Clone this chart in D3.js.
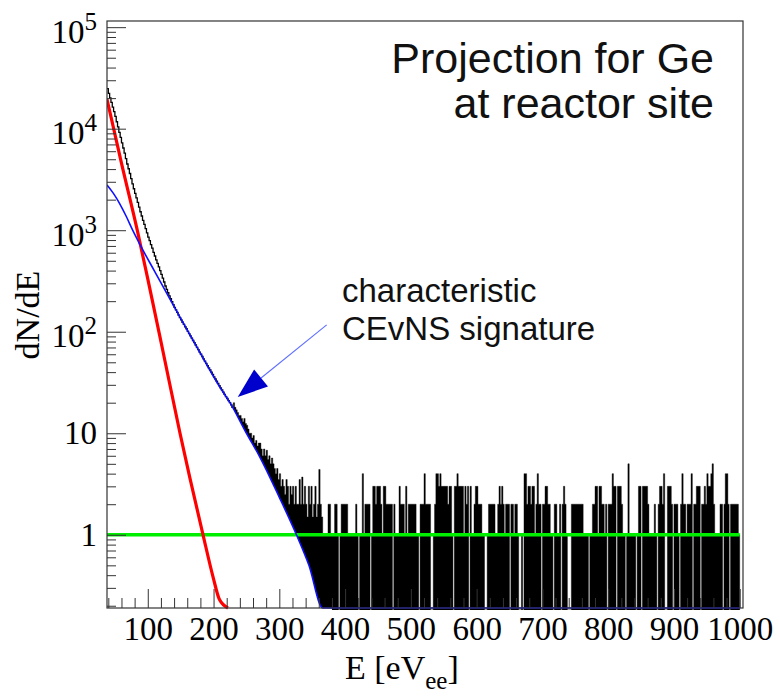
<!DOCTYPE html>
<html><head><meta charset="utf-8">
<script src="https://cdn.jsdelivr.net/npm/d3@7"></script>
<style>body{margin:0;background:#fff}svg{display:block}</style>
</head><body><svg id="c" width="780" height="700"></svg>
<script>
// ---------- data ----------
const xTicks = [100,200,300,400,500,600,700,800,900,1000];
const yTicks = [1,10,100,1000,10000,100000];
// red component (E in eV, dN/dE)
const redE = [38, 60, 84, 100, 123, 149, 164, 184, 199, 209, 222];
const redV = [19500, 4570, 1000, 331, 64.6, 10, 3.63, 1.0, 0.39, 0.23, 0.19];
// blue CEvNS component
const blueE = [38, 48, 57, 67, 77, 88, 110, 139, 170, 209, 225, 250, 270, 300, 326, 345, 366, 380, 1000];
const blueV = [2790, 2290, 1840, 1380, 1000, 724, 398, 182, 80, 28.8, 20, 10, 5.9, 2.34, 1.0, 0.5, 0.19, 0.1, 0.001];
// flat background level (green)
const bgE = [38, 1000];
const bgV = [1, 1];
// black measured histogram, 2 eV bins
const binW = 2;
const blackLowStart = 38;   // step-line part
const blackLow = [24800,22300,20100,18200,16300,14700,13200,11700,10400,9200,
  8200,7250,6450,5750,5060,4490,4030,3620,3220,2860,
  2560,2310,2080,1880,1690,1520,1380,1250,1140,1035,
  940,856,788,721,665,604,557,510,471,435,
  400,367,337,309,282,261,242,226,212,198,
  185,174,164,155,146,138,131,124,118,112,
  107,101,96,91,86.5,82,78,74,70,66.5,
  63,60,57,54,51.4,48.8,46.4,44,42,40,
  38,36,34.3,32.6,31,29.4,28,26.7,25.4,24.2,
  23,22,21,20,19,18];
const noiseStart = 230;     // noisy part above the blue curve
const noiseHi = [20,18,17,16,15,15,14,13,14,12.5, 12,11,10,10,9,9.5,8,8.5,7.5,8,
  8,7,6,7,6,6.8,5.5,6,5,5.7, 5,4.5,4,4.5,3.5,4,3,3.5,3,2.5,
  3.5,3,2,3,2.5,3,2,3,2,2, 3.5,2,3.7,2,3,2,1.5,3,2,3,
  1.5,2,3,1.5,2,4.4,2,1.5];
const flatStart = 366;      // flat, low-count part
const flatHi = [1,1,1,1,2,2,1,1,1,2, 2,1,0,1,2,2,2,2,2,1, 1,1,1,1,1,2,1,0,1,1,
  4,1,2,2,2,2,0,1,3,3, 2,3,3,3,2,1,3,3,2,2, 2,2,2,0,2,1,1,1,3,2,
  2,2,1,3,1,2,2,2,2,2, 2,1,1,0,2,2,2,4,2,2, 2,2,0,0,1,2,4,4,3,4,
  3,3,3,3,3,2,3,3,1,0, 3,3,4,3,3,3,3,1,3,2, 3,0,3,1,1,2,3,3,2,2,
  2,1,1,0,0,1,2,2,2,2, 2,1,1,2,3,2,3,2,1,2, 2,2,0,2,2,1,2,2,1,0,
  0,1,0,4,4,2,3,3,2,3, 3,1,2,4,2,2,0,2,2,3, 3,2,2,1,1,0,2,2,1,1,
  2,0,2,3,2,1,0,0,0,2, 2,2,2,2,2,2,2,2,1,1, 1,1,0,1,1,2,2,3,3,1,
  3,3,2,2,1,2,0,2,2,2, 4,3,3,0,3,3,3,2,1,1, 0,1,5,1,1,1,1,1,0,1,
  3,3,0,3,3,3,3,2,1,1, 1,1,2,1,0,2,3,3,2,4, 0,0,3,3,3,2,0,2,2,2,
  1,0,2,4,2,2,1,2,2,2, 4,0,2,2,3,3,3,0,2,2, 3,2,4,3,3,4,5,2,1,1,
  1,1,2,2,0,2,4,4,2,0, 2,2,2,2,2,2,1];
// annotation arrow (data coordinates): tail -> tip
const arrowE = [372, 236.8];
const arrowV = [117, 22.8];

// ---------- layout ----------
const L = 107, R = 743, T = 21, B = 608;
const svg = d3.select('#c');
const x = d3.scaleLinear().domain([38, 1005]).range([L, R]);
const y = d3.scaleLog().domain([0.19, 1.15e5]).range([B, T]).clamp(true);

const defs = svg.append('defs');
defs.append('clipPath').attr('id','plot').append('rect')
  .attr('x', L).attr('y', T).attr('width', R - L).attr('height', B - T + 2);
defs.append('clipPath').attr('id','noiseclip').append('rect')
  .attr('x', x(noiseStart) - 2).attr('y', T).attr('width', x(400) - x(noiseStart) + 2).attr('height', B - T + 2);

const plot = svg.append('g').attr('clip-path','url(#plot)');

// black histogram: filled bins (noisy + flat part) as one stepped area
const bins = [];
noiseHi.forEach((v,i)=>bins.push([noiseStart + i*binW, v]));
flatHi.forEach((v,i)=>bins.push([flatStart + i*binW, v]));
bins.push([flatStart + flatHi.length*binW, flatHi[flatHi.length-1]]);
plot.append('path').datum(bins)
  .attr('d', d3.area().x(d=>x(d[0])).y0(B+2).y1(d=>d[1]>0 ? y(d[1]) : B+2).curve(d3.curveStepAfter))
  .attr('fill','#000').attr('stroke','#000').attr('stroke-width',0.4);

// white region below the blue curve in the noisy part
const bluePts = blueE.map((e,i)=>[e, blueV[i]]);
plot.append('path').attr('clip-path','url(#noiseclip)')
  .datum(bluePts.filter(d=>d[0]>=200 && d[0]<=400))
  .attr('d', d3.area().x(d=>x(d[0])).y0(B+3).y1(d=>y(d[1])).curve(d3.curveMonotoneX))
  .attr('fill','#fff');

// black step line (high-count part)
const lowPts = blackLow.map((v,i)=>[blackLowStart + i*binW, v]);
lowPts.push([blackLowStart + blackLow.length*binW, blackLow[blackLow.length-1]]);
plot.append('path').datum(lowPts)
  .attr('d', d3.line().x(d=>x(d[0])).y(d=>y(d[1])).curve(d3.curveStepAfter))
  .attr('fill','none').attr('stroke','#000').attr('stroke-width',1.3);

// green flat background
plot.append('path').datum(bgE.map((e,i)=>[e,bgV[i]]))
  .attr('d', d3.line().x(d=>x(d[0])).y(d=>y(d[1])))
  .attr('fill','none').attr('stroke','#00ee00').attr('stroke-width',3.5);

// red component
plot.append('path').datum(redE.map((e,i)=>[e,redV[i]]))
  .attr('d', d3.line().x(d=>x(d[0])).y(d=>y(d[1])).curve(d3.curveMonotoneX))
  .attr('fill','none').attr('stroke','#ff0000').attr('stroke-width',3.2);

// blue component
plot.append('path').datum(bluePts)
  .attr('d', d3.line().x(d=>x(d[0])).y(d=>y(d[1])).curve(d3.curveMonotoneX))
  .attr('fill','none').attr('stroke','#1010ff').attr('stroke-width',1.6);

// ---------- axes ----------
const xMinor = d3.range(40, 1001, 20).filter(v=>v%100!==0);
const yMinor = y.ticks().filter(v=>!yTicks.includes(v));
const axStyle = g => { g.select('.domain').remove(); g.selectAll('line').attr('stroke','#333').attr('stroke-width',1); };

svg.append('g').attr('transform',`translate(0,${B})`)
  .call(d3.axisBottom(x).tickValues(xMinor).tickSize(-10).tickFormat('')).call(axStyle);
const gx = svg.append('g').attr('transform',`translate(0,${B})`)
  .call(d3.axisBottom(x).tickValues(xTicks).tickSize(-19).tickPadding(9).tickSizeOuter(0).tickFormat(d3.format('d'))).call(axStyle);
gx.selectAll('text').attr('font-family','Liberation Serif').attr('font-size',33).attr('fill','#000');

svg.append('g').attr('transform',`translate(${L},0)`)
  .call(d3.axisLeft(y).tickValues(yMinor).tickSize(-9).tickFormat('')).call(axStyle);
const gy = svg.append('g').attr('transform',`translate(${L},0)`)
  .call(d3.axisLeft(y).tickValues(yTicks).tickSize(-19).tickPadding(10).tickFormat('')).call(axStyle);
gy.selectAll('text').each(function(v){
  const t = d3.select(this).attr('font-family','Liberation Serif').attr('font-size',33).attr('fill','#000');
  const k = Math.round(Math.log10(v));
  if (k <= 1) { t.text(k===0 ? '1' : '10'); }
  else {
    t.attr('dy','0.46em');
    t.append('tspan').text('10');
    t.append('tspan').attr('font-size',25).attr('dy',-13).text(String(k));
  }
});

// frame
svg.append('rect').attr('x',L).attr('y',T).attr('width',R-L).attr('height',B-T)
  .attr('fill','none').attr('stroke','#333').attr('stroke-width',1.2);

// axis titles
svg.append('text').attr('transform','translate(39,315) rotate(-90)')
  .attr('text-anchor','middle').attr('font-family','Liberation Serif').attr('font-size',34)
  .text('dN/dE');
const xt = svg.append('text').attr('x',345).attr('y',679)
  .attr('font-family','Liberation Serif').attr('font-size',34);
xt.append('tspan').text('E [eV');
xt.append('tspan').attr('font-size',25).attr('dy',10).text('ee');
xt.append('tspan').attr('dy',-10).text(']');

// annotations
const ann = svg.append('g').attr('font-family','Liberation Sans').attr('fill','#111');
ann.append('text').attr('x',714).attr('y',73).attr('text-anchor','end').attr('font-size',43).text('Projection for Ge');
ann.append('text').attr('x',714).attr('y',118).attr('text-anchor','end').attr('font-size',43).text('at reactor site');
ann.append('text').attr('x',342).attr('y',302).attr('font-size',33).text('characteristic');
ann.append('text').attr('x',342).attr('y',340).attr('font-size',33).text('CEvNS signature');

// arrow
const p0 = [x(arrowE[0]), y(arrowV[0])], p1 = [x(arrowE[1]), y(arrowV[1])];
const dx = p1[0]-p0[0], dy = p1[1]-p0[1], len = Math.hypot(dx,dy);
const ux = dx/len, uy = dy/len, hl = 30, hw = 11;
const bx = p1[0]-ux*hl, by = p1[1]-uy*hl;
svg.append('line').attr('x1',p0[0]).attr('y1',p0[1]).attr('x2',bx).attr('y2',by)
  .attr('stroke','#5f6fff').attr('stroke-width',1.1);
svg.append('path').attr('d',`M${p1[0]},${p1[1]}L${bx-uy*hw},${by+ux*hw}L${bx+uy*hw},${by-ux*hw}Z`)
  .attr('fill','#0000cc');
</script></body></html>
